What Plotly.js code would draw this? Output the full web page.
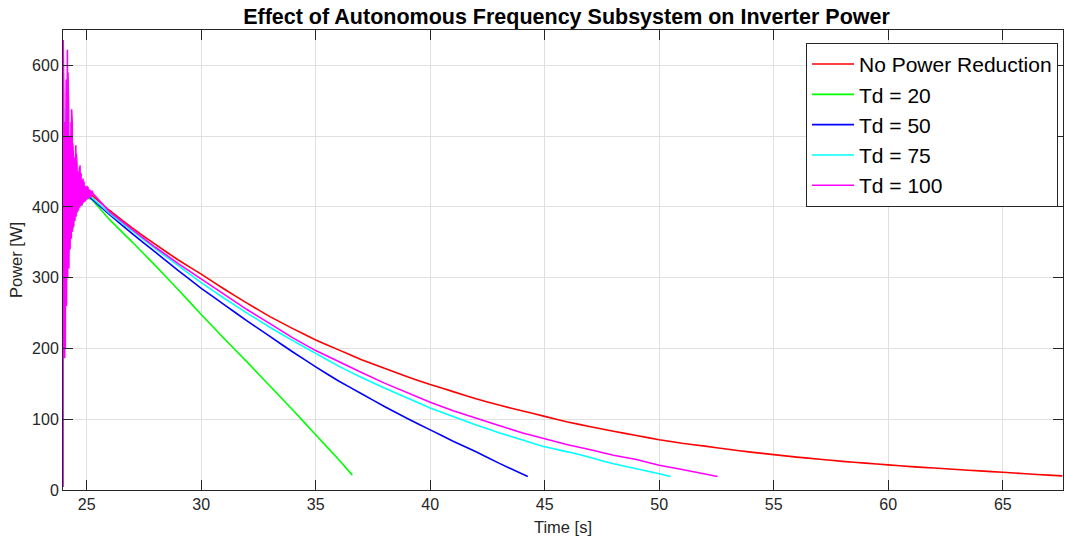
<!DOCTYPE html>
<html>
<head>
<meta charset="utf-8">
<script src="https://cdn.plot.ly/plotly-3.0.1.min.js"></script>
<style>html,body{margin:0;padding:0;background:#fff;}#chart{width:1065px;height:539px;}</style>
</head>
<body>
<div id="chart"></div>
<script>
// ---- tick labels ----
const xTicks = [25, 30, 35, 40, 45, 50, 55, 60, 65];
const yTicks = [0, 100, 200, 300, 400, 500, 600];

// ---- series names ----
const seriesNames = ["No Power Reduction", "Td = 20", "Td = 50", "Td = 75", "Td = 100"];

// ---- start-up transient (time [s]) shared by the first four series ----
const timeTransient = [23.965, 23.99, 24.05, 24.12, 24.2, 24.28, 24.35, 24.42, 24.5, 24.6, 24.7, 24.8, 24.9, 25.0];
const redTransient   = [5, 500, 300, 560, 330, 470, 370, 460, 390, 440, 405, 435, 415, 422];
const greenTransient = [5, 480, 320, 540, 340, 460, 380, 370, 440, 393, 430, 402, 418, 413];
const blueTransient  = [5, 520, 280, 550, 320, 480, 365, 455, 388, 440, 404, 432, 414, 418];
const cyanTransient  = [5, 540, 260, 570, 325, 475, 368, 458, 389, 442, 406, 433, 416, 420];

// ---- Td = 100 start-up oscillation (peaks and troughs) ----
const magentaTransientTime = [23.965, 23.974, 23.987, 24.000, 24.013, 24.026, 24.039, 24.052, 24.065, 24.079,
  24.092, 24.105, 24.118, 24.131, 24.144, 24.157, 24.170, 24.183, 24.197, 24.210,
  24.223, 24.236, 24.249, 24.262, 24.275, 24.288, 24.301, 24.315, 24.328, 24.341,
  24.354, 24.367, 24.380, 24.393, 24.406, 24.419, 24.432, 24.446, 24.459, 24.472,
  24.485, 24.498, 24.511, 24.524, 24.537, 24.550, 24.564, 24.577, 24.590, 24.603,
  24.616, 24.629, 24.642, 24.655, 24.668, 24.681, 24.694, 24.708, 24.729, 24.751,
  24.773, 24.795, 24.817, 24.839, 24.861, 24.882, 24.904, 24.926, 24.948, 24.970,
  24.992, 25.014, 25.036, 25.057, 25.079, 25.101, 25.123, 25.145, 25.189, 25.232, 25.276];
const magentaTransient = [5, 636, 190, 560, 188, 520, 186, 500, 200, 540,
  240, 580, 260, 610, 280, 622, 300, 590, 310, 540,
  313, 500, 330, 480, 340, 500, 350, 520, 355, 538,
  360, 520, 365, 490, 368, 470, 372, 460, 376, 470,
  380, 480, 383, 487, 386, 475, 389, 460, 392, 450,
  394, 448, 395, 452, 397, 456, 399, 459, 401, 448,
  402, 438, 404, 440, 406, 436, 407, 430, 408, 428,
  410, 430, 411, 428, 412, 425, 413, 424, 414, 423, 419];

// ---- decay after the transient ----
const redTime = [25.5, 26, 27, 28, 29, 30, 31, 32, 33, 34, 35, 36, 37, 38, 39, 40, 41, 42, 43, 44, 45,
  46, 47, 48, 49, 50, 51, 52, 53, 54, 55, 56, 57, 58, 59, 60, 61, 62, 63, 64, 65, 66, 67, 67.6];
const redPower = [409, 395, 370, 347, 325, 305, 284, 264, 245, 228, 212, 198, 184, 172, 160, 149, 139, 129, 120, 112, 104,
  96, 89.5, 83, 77, 71, 66, 62, 57.5, 53.5, 50, 46.5, 43.5, 40.5, 38, 35.5, 33, 31, 29, 27, 25, 23, 21, 20];

const greenTime = [25.2, 26, 27, 28, 29, 30, 31, 32, 33, 34, 35, 36, 36.6];
const greenPower = [411, 382, 350, 317, 283, 248, 214, 181, 147, 113, 78, 43, 21];

const blueTime = [25.2, 26, 27, 28, 29, 30, 31, 32, 33, 34, 35, 36, 37, 38, 39, 40, 41, 42, 43, 44.26];
const bluePower = [412, 389, 362, 336, 310, 285, 262, 239, 217, 195, 174, 154, 136, 118, 101, 85, 69, 54, 38, 19];

const cyanTime = [25.2, 26, 27, 28, 29, 30, 31, 32, 33, 34, 35, 36, 37, 38, 39, 40, 41, 42, 43, 44, 45, 46, 47, 48, 49, 50, 50.5];
const cyanPower = [414, 391, 366, 341, 317, 293, 271, 250, 230, 211, 193, 175, 159, 144, 130, 116, 104, 92, 81, 71, 61, 54, 46, 37, 30, 23, 19];

const magentaTime = [26, 27, 28, 29, 30, 31, 32, 33, 34, 35, 36, 37, 38, 39, 40, 41, 42, 43, 44, 45, 46, 47, 48, 49, 50, 51, 52, 52.55];
const magentaPower = [393, 368, 343, 320, 298, 276, 255, 235, 215, 197, 181, 166, 151, 137, 124, 112, 101, 91, 81, 72, 64, 57, 49, 43, 35, 29, 23, 19];

const colors = ["#ff0000", "#00ff00", "#0000ff", "#00ffff", "#ff00ff"];

const xs = [
  timeTransient.concat(redTime),
  timeTransient.concat(greenTime),
  timeTransient.concat(blueTime),
  timeTransient.concat(cyanTime),
  magentaTransientTime.concat(magentaTime)
];
const ys = [
  redTransient.concat(redPower),
  greenTransient.concat(greenPower),
  blueTransient.concat(bluePower),
  cyanTransient.concat(cyanPower),
  magentaTransient.concat(magentaPower)
];

const traces = seriesNames.map((n, i) => ({
  type: "scatter", mode: "lines", name: n,
  x: xs[i], y: ys[i],
  line: {color: colors[i], width: 1.6, shape: "spline", smoothing: 0.3}
}));
// keep the oscillation sharp
traces[4].line.shape = "linear";

const FONT = "Liberation Sans, Arial, Helvetica, sans-serif";
const axisCommon = {
  showline: true, linecolor: "#262626", linewidth: 1, mirror: "ticks",
  ticks: "inside", ticklen: 10, tickcolor: "#262626", tickwidth: 1,
  showgrid: true, gridcolor: "#e0e0e0", gridwidth: 1, zeroline: false,
  tickfont: {family: FONT, size: 16, color: "#262626"}
};

const layout = {
  width: 1065, height: 539,
  margin: {l: 63, r: 2, t: 30, b: 49, pad: 0},
  paper_bgcolor: "#ffffff", plot_bgcolor: "#ffffff",
  font: {family: FONT, color: "#262626"},
  title: {
    text: "<b>Effect of Autonomous Frequency Subsystem on Inverter Power</b>",
    font: {family: FONT, size: 21.5, color: "#000000"},
    x: 0.5035, xref: "paper", xanchor: "center",
    y: 1 - 16 / 539, yref: "container", yanchor: "middle"
  },
  xaxis: Object.assign({}, axisCommon, {
    range: [23.965, 67.63], tickvals: xTicks, ticktext: xTicks.map(String),
    title: {text: "Time [s]", font: {family: FONT, size: 16.5, color: "#262626"}, standoff: 9}
  }),
  yaxis: Object.assign({}, axisCommon, {
    range: [0, 650], tickvals: yTicks, ticktext: yTicks.map(String),
    title: {text: "Power [W]", font: {family: FONT, size: 16.5, color: "#262626"}, standoff: 5}
  }),
  showlegend: true,
  legend: {
    x: 0.995, xanchor: "right", y: 0.972, yanchor: "top",
    bgcolor: "#ffffff", bordercolor: "#262626", borderwidth: 1,
    font: {family: FONT, size: 21, color: "#000000"},
    tracegroupgap: 0, itemwidth: 42
  }
};

Plotly.newPlot("chart", traces, layout, {displayModeBar: false, staticPlot: true});
</script>
</body>
</html>
